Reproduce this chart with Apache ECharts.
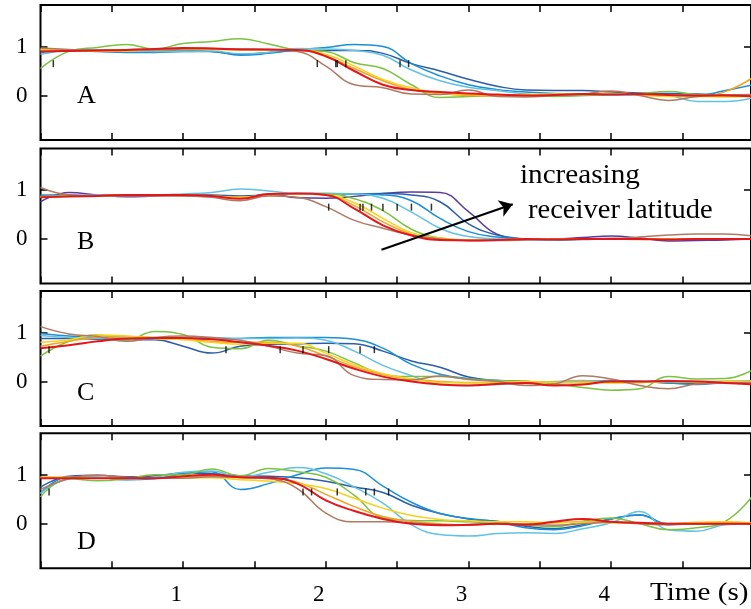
<!DOCTYPE html>
<html>
<head>
<meta charset="utf-8">
<script src="https://cdn.jsdelivr.net/npm/echarts@6/dist/echarts.min.js"></script>
<style>
  html, body { margin: 0; padding: 0; background: #fff; }
  #chart { width: 751px; height: 609px; }
</style>
</head>
<body>
<div id="chart"></div>
<script>
// time samples (s), shared by every trace
const T = [0, 0.2, 0.4, 0.6, 0.8, 1, 1.2, 1.4, 1.6, 1.8, 2, 2.2, 2.4, 2.6, 2.8, 3, 3.2, 3.4, 3.6, 3.8, 4, 4.2, 4.4, 4.6, 4.8, 5];

// panel A
const aDarkBlue  = [0.92,0.93,0.93,0.92,0.92,0.93,0.9,0.84,0.88,0.92,0.92,0.92,0.86,0.65,0.5,0.33,0.19,0.11,0.1,0.1,0.07,0.05,0.04,0.03,0.01,0.0];
const aBlue      = [0.88,0.92,0.9,0.88,0.88,0.9,0.9,0.82,0.86,0.93,0.98,1.04,1.0,0.65,0.4,0.22,0.12,0.07,0.04,0.03,0.02,0.01,0.0,0.0,0.1,0.22];
const aLightBlue = [0.84,0.92,0.93,0.92,0.9,0.9,0.91,0.85,0.88,0.96,0.95,0.92,0.82,0.52,0.3,0.17,0.1,0.03,-0.01,0.0,0.01,0.02,0.0,-0.12,-0.12,-0.04];
const aGreen     = [0.55,0.9,0.98,1.04,0.95,1.06,1.1,1.16,1.05,0.93,0.9,0.67,0.55,0.22,-0.04,-0.02,0.0,0.02,-0.02,0.0,0.02,0.04,0.08,0.02,0.0,0.02];
const aOrange    = [0.95,0.93,0.91,0.92,0.93,0.95,0.95,0.94,0.93,0.93,0.8,0.55,0.3,0.12,0.04,0.0,-0.01,0.0,0.02,0.02,0.03,0.02,-0.01,-0.02,0.08,0.38];
const aYellow    = [0.93,0.92,0.9,0.91,0.93,0.94,0.94,0.93,0.93,0.93,0.84,0.6,0.33,0.16,0.05,0.02,0.01,0.02,0.03,0.03,0.04,0.01,-0.02,-0.02,-0.03,-0.02];
const aRed       = [0.9,0.91,0.92,0.93,0.95,0.97,0.96,0.94,0.94,0.93,0.8,0.5,0.22,0.11,0.07,0.04,0.02,0.0,0.01,0.03,0.02,0.03,0.01,0.0,0.0,-0.02];
const aBrown     = [0.97,0.94,0.92,0.93,0.93,0.95,0.96,0.95,0.94,0.9,0.6,0.22,0.16,0.03,0.02,0.11,-0.02,-0.03,0.0,0.03,0.09,0.0,-0.1,-0.02,0.01,0.02];
const aPicks     = [0.09, 1.94, 2.07, 2.08, 2.14, 2.52, 2.58];

// panel B
const bPurple    = [0.76,0.95,0.9,0.86,0.88,0.9,0.88,0.84,0.92,0.84,0.83,0.87,0.93,0.96,0.95,0.56,0.1,0.0,0.0,0.03,0.06,0.02,-0.04,-0.03,-0.02,0.0];
const bDarkBlue  = [0.88,0.9,0.88,0.89,0.9,0.9,0.9,0.88,0.9,0.92,0.92,0.92,0.93,0.9,0.76,0.31,0.08,0.0,-0.02,0.0,0.01,0.0,-0.01,0.0,0.0,0.0];
const bBlue      = [0.9,0.89,0.88,0.9,0.9,0.9,0.88,0.86,0.9,0.93,0.93,0.92,0.9,0.78,0.42,0.15,0.04,0.0,-0.02,-0.01,0.0,0.0,0.0,0.0,0.0,0.0];
const bLightBlue = [0.85,0.88,0.9,0.9,0.9,0.92,0.95,1.02,0.98,0.93,0.93,0.92,0.83,0.55,0.22,0.05,0.0,-0.02,-0.02,0.0,0.0,0.0,0.0,0.0,0.0,0.0];
const bGreen     = [0.85,0.86,0.88,0.9,0.9,0.88,0.86,0.84,0.9,0.92,0.92,0.82,0.58,0.2,0.02,-0.02,-0.02,0.0,0.0,0.0,0.0,-0.01,0.0,0.0,0.0,0.0];
const bYellow    = [0.86,0.87,0.88,0.9,0.9,0.9,0.88,0.85,0.9,0.92,0.9,0.74,0.42,0.13,0.02,-0.02,-0.02,0.0,0.0,0.0,0.0,0.0,0.0,0.0,0.0,0.0];
const bOrange    = [0.87,0.88,0.88,0.9,0.9,0.9,0.88,0.85,0.9,0.92,0.9,0.68,0.35,0.1,0.0,-0.03,-0.02,0.0,0.0,0.0,0.0,0.0,0.0,0.0,0.0,0.0];
const bRed       = [0.85,0.87,0.88,0.9,0.9,0.9,0.88,0.82,0.92,0.93,0.9,0.62,0.28,0.07,-0.02,-0.03,-0.02,0.0,-0.01,0.0,0.0,0.0,-0.01,0.0,0.0,0.0];
const bBrown     = [1.05,0.9,0.88,0.88,0.88,0.88,0.85,0.78,0.88,0.85,0.66,0.38,0.22,0.08,0.0,-0.03,-0.03,-0.02,0.0,0.0,0.01,0.04,0.08,0.1,0.1,0.06];
const bPicks     = [2.02, 2.24, 2.26, 2.32, 2.40, 2.50, 2.60, 2.74];

// panel C
const cDarkBlue  = [0.88,0.88,0.86,0.85,0.85,0.72,0.58,0.72,0.76,0.77,0.78,0.77,0.62,0.42,0.29,0.09,0.02,0.0,-0.02,-0.02,0.0,0.0,-0.03,-0.04,0.0,0.0];
const cBlue      = [0.98,0.93,0.9,0.88,0.88,0.86,0.86,0.88,0.9,0.9,0.9,0.86,0.68,0.35,0.15,0.06,0.02,0.0,-0.02,0.0,0.02,0.0,-0.03,-0.06,-0.02,0.0];
const cLightBlue = [0.94,0.9,0.88,0.87,0.87,0.87,0.9,0.88,0.88,0.89,0.84,0.62,0.33,0.12,-0.06,-0.08,-0.06,-0.04,0.0,0.02,0.0,0.0,0.02,0.0,0.0,0.02];
const cGreen     = [0.52,0.82,0.95,0.84,1.02,0.96,0.7,0.67,0.84,0.73,0.62,0.38,0.15,0.1,0.1,0.05,0.02,0.0,-0.05,-0.12,-0.18,-0.15,0.1,0.05,0.06,0.25];
const cOrange    = [0.72,0.82,0.9,0.92,0.9,0.87,0.82,0.8,0.8,0.72,0.52,0.3,0.14,0.05,0.0,-0.02,-0.02,0.0,-0.01,0.0,-0.02,-0.02,0.0,0.0,0.0,0.0];
const cYellow    = [0.8,0.85,0.95,0.93,0.88,0.85,0.8,0.76,0.78,0.78,0.58,0.34,0.16,0.05,-0.02,-0.03,-0.02,0.0,-0.02,-0.02,-0.03,-0.02,0.0,-0.02,0.0,0.0];
const cRed       = [0.68,0.74,0.82,0.88,0.89,0.89,0.86,0.8,0.73,0.63,0.46,0.26,0.1,0.0,-0.06,-0.08,-0.05,-0.03,-0.08,-0.06,0.0,0.0,0.01,0.0,-0.03,-0.06];
const cBrown     = [1.12,0.97,0.92,0.82,0.9,0.93,0.9,0.84,0.72,0.58,0.53,0.12,0.04,0.03,0.11,0.04,0.0,-0.08,-0.05,0.12,0.05,-0.08,-0.15,-0.05,-0.03,-0.02];
const cPicks     = [0.06, 1.30, 1.68, 1.84, 2.02, 2.24, 2.34];

// panel D
const dDarkBlue  = [0.75,0.97,0.99,0.96,0.98,1.03,1.02,0.98,0.97,0.94,0.87,0.75,0.64,0.38,0.21,0.1,0.05,-0.05,-0.1,-0.02,0.1,0.18,0.0,0.0,0.02,0.02];
const dBlue      = [0.62,0.96,0.95,0.9,0.92,1.02,1.06,0.7,0.82,1.0,1.14,1.11,0.77,0.44,0.21,0.11,0.04,-0.08,-0.12,-0.04,0.1,0.18,-0.02,0.0,0.0,0.0];
const dLightBlue = [0.62,0.92,0.95,0.9,0.95,1.05,1.08,0.95,1.05,1.15,1.02,0.75,0.42,-0.02,-0.22,-0.25,-0.2,-0.18,-0.2,-0.1,0.02,0.25,-0.12,-0.15,-0.02,0.0];
const dGreen     = [0.55,0.92,0.88,0.92,1.0,1.0,1.12,0.98,1.13,1.06,0.95,0.58,0.12,0.07,0.06,0.04,0.02,-0.02,-0.06,0.05,0.12,0.0,-0.12,-0.08,0.05,0.6];
const dOrange    = [0.95,0.95,0.94,0.93,0.93,0.95,0.97,0.94,0.93,0.85,0.6,0.35,0.15,0.05,0.0,-0.02,0.0,0.0,0.02,0.04,0.03,0.02,0.0,0.02,0.03,0.0];
const dYellow    = [0.95,0.94,0.94,0.93,0.93,0.94,0.94,0.9,0.87,0.82,0.72,0.52,0.32,0.17,0.09,0.06,0.04,0.04,0.02,0.03,0.02,0.02,0.0,0.03,0.04,0.02];
const dRed       = [0.93,0.93,0.93,0.93,0.93,0.97,1.0,0.95,0.94,0.82,0.48,0.26,0.1,0.0,-0.03,-0.02,0.0,-0.02,0.04,0.1,0.04,0.02,0.0,0.0,0.0,0.0];
const dBrown     = [0.7,0.92,0.99,0.95,0.93,0.93,0.96,0.95,0.92,0.72,0.22,0.04,0.04,0.02,-0.02,-0.03,0.0,-0.01,-0.03,0.0,0.03,0.0,-0.02,0.0,0.0,0.0];
const dPicks     = [0.06, 1.84, 1.90, 2.08, 2.28, 2.34, 2.44];

const pickLevel = 0.65;          // picks drawn as short black dashes at this level
const yTicks = [0, 1];
const xLabels = [1, 2, 3, 4];
const panelNames = ['A', 'B', 'C', 'D'];
const arrowFrom = [2.39, -0.22]; // "increasing receiver latitude" arrow, panel B
const arrowTo = [3.31, 0.71];

const colors = {
  purple: '#5b3b9b', darkBlue: '#2b5ea9', blue: '#1a8fd5', lightBlue: '#62c2e4',
  green: '#7cc241', orange: '#f3a324', yellow: '#f7d11a', red: '#e4161c', brown: '#b07a62'
};

// draw order per panel (last one on top)
const panels = [
  [['darkBlue', aDarkBlue], ['blue', aBlue], ['lightBlue', aLightBlue], ['green', aGreen],
   ['orange', aOrange], ['yellow', aYellow], ['brown', aBrown], ['red', aRed]],
  [['purple', bPurple], ['darkBlue', bDarkBlue], ['blue', bBlue], ['lightBlue', bLightBlue], ['green', bGreen],
   ['orange', bOrange], ['yellow', bYellow], ['brown', bBrown], ['red', bRed]],
  [['darkBlue', cDarkBlue], ['blue', cBlue], ['lightBlue', cLightBlue], ['green', cGreen],
   ['orange', cOrange], ['yellow', cYellow], ['brown', cBrown], ['red', cRed]],
  [['darkBlue', dDarkBlue], ['blue', dBlue], ['lightBlue', dLightBlue], ['green', dGreen],
   ['orange', dOrange], ['yellow', dYellow], ['brown', dBrown], ['red', dRed]]
];
const picks = [aPicks, bPicks, cPicks, dPicks];

// layout
const gridTops = [5, 148.5, 291, 433.3];
const letterY = [97, 243, 394, 543];
const X_MAX = 4.98, Y_MIN = -0.908, Y_MAX = 1.847;
const FONT = '"Liberation Serif", "Times New Roman", serif';

const chart = echarts.init(document.getElementById('chart'));

const grid = [], xAxis = [], yAxis = [], series = [];
gridTops.forEach((top, i) => {
  grid.push({ left: 40.5, top: top, width: 714.6, height: 135, show: true,
              borderColor: '#000', borderWidth: 2, backgroundColor: 'transparent' });
  const tick = { show: true, inside: true, length: 7, lineStyle: { color: '#000', width: 1.5 } };
  ['bottom', 'top'].forEach(pos => {
    xAxis.push({
      gridIndex: i, type: 'value', position: pos, min: 0, max: X_MAX, interval: 0.5,
      axisLine: { show: false, onZero: false }, splitLine: { show: false }, axisTick: tick,
      axisLabel: {
        show: pos === 'bottom' && i === 3, customValues: xLabels, margin: 15,
        color: '#000', fontSize: 23, fontFamily: FONT, padding: [0, 14, 0, 0]
      }
    });
  });
  ['left', 'right'].forEach(pos => {
    yAxis.push({
      gridIndex: i, type: 'value', position: pos, min: Y_MIN, max: Y_MAX,
      axisLine: { show: false, onZero: false }, splitLine: { show: false },
      axisTick: Object.assign({ customValues: yTicks }, tick),
      axisLabel: {
        show: pos === 'left', customValues: yTicks, margin: 13,
        color: '#000', fontSize: 23, fontFamily: FONT
      }
    });
  });

  panels[i].forEach(([c, vals]) => {
    series.push({
      type: 'line', xAxisIndex: 2 * i, yAxisIndex: 2 * i,
      data: T.map((t, k) => [t, vals[k]]),
      showSymbol: false, smooth: 0.45, animation: false, silent: true,
      lineStyle: { color: colors[c], width: c === 'red' ? 2 : 1.5 },
      itemStyle: { color: colors[c] }
    });
  });

  const pickSeries = {
    type: 'scatter', xAxisIndex: 2 * i, yAxisIndex: 2 * i, z: 5,
    data: picks[i].map(t => [t, pickLevel]),
    symbol: 'rect', symbolSize: [1.5, 7], itemStyle: { color: '#000' },
    animation: false, silent: true
  };
  if (i === 1) {
    pickSeries.markLine = {
      silent: true, animation: false, symbol: ['none', 'arrow'], symbolSize: 13,
      lineStyle: { color: '#000', width: 2, type: 'solid' }, label: { show: false },
      data: [[{ coord: arrowFrom }, { coord: arrowTo }]]
    };
  }
  series.push(pickSeries);
});

const graphic = panelNames.map((n, i) => ({
  type: 'text', left: 77, top: letterY[i] - 14,
  style: { text: n, font: '26px ' + FONT, fill: '#000' }
}));
graphic.push(
  { type: 'text', x: 520, y: 162, scaleX: 1.08, style: { text: 'increasing', font: '27px ' + FONT, fill: '#000' } },
  { type: 'text', x: 528, y: 197, scaleX: 1.02, style: { text: 'receiver latitude', font: '28px ' + FONT, fill: '#000' } },
  { type: 'text', x: 650, y: 580, scaleX: 1.12, style: { text: 'Time (s)', font: '26px ' + FONT, fill: '#000' } }
);

chart.setOption({
  animation: false,
  backgroundColor: '#fff',
  grid: grid,
  xAxis: xAxis,
  yAxis: yAxis,
  series: series,
  graphic: graphic
});
</script>
</body>
</html>
